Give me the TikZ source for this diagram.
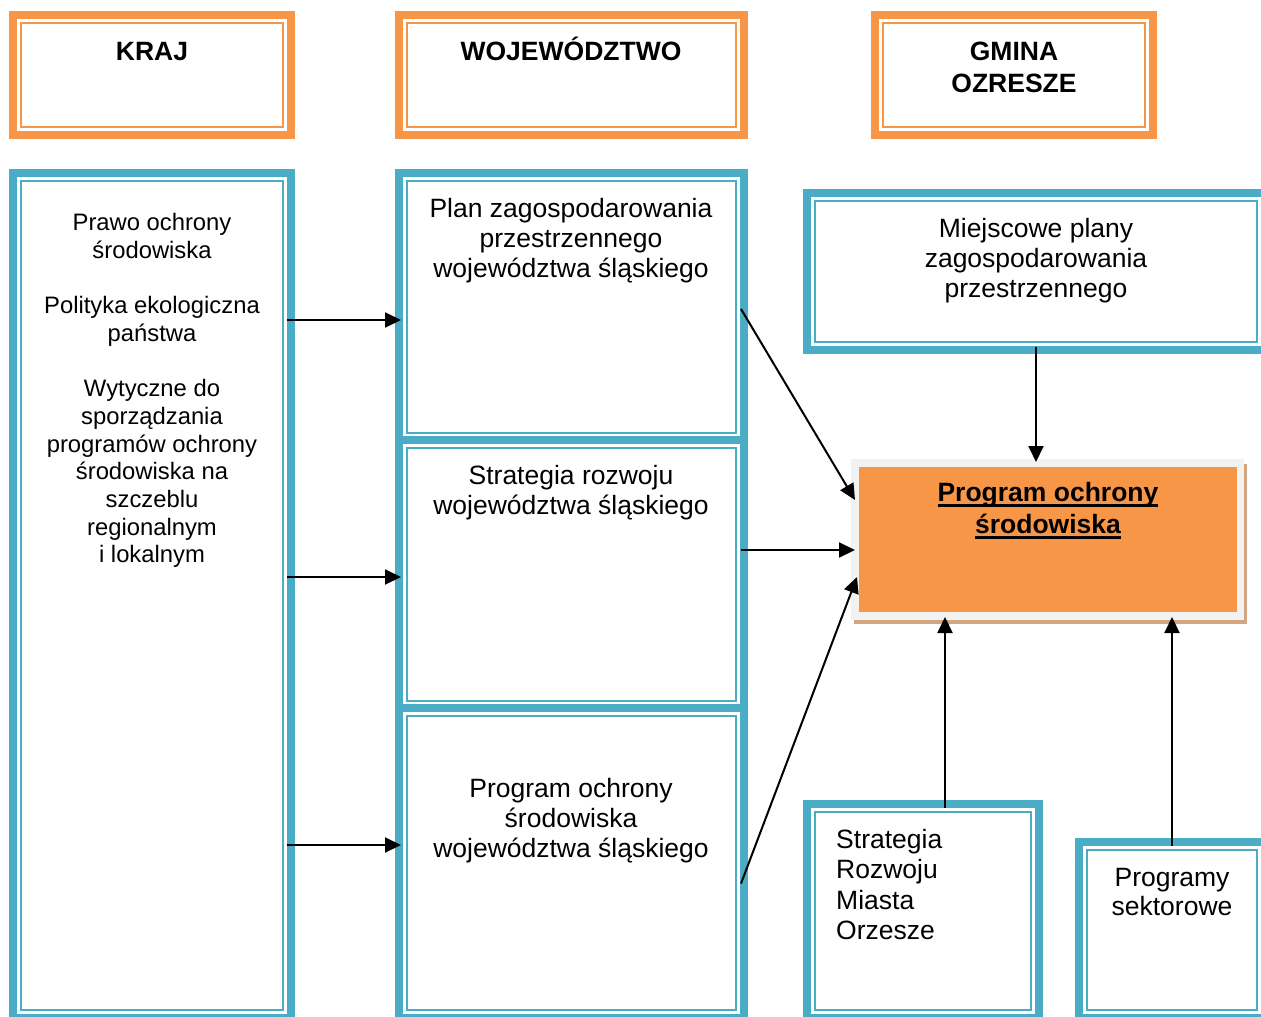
\documentclass[tikz,border=0pt]{standalone}
\usepackage{fontspec}
\setmainfont{Liberation Sans}
\usetikzlibrary{arrows.meta,calc}
\definecolor{orng}{HTML}{F79646}
\definecolor{blu}{HTML}{4BACC6}
\definecolor{lgray}{HTML}{F2F2F2}
\definecolor{shadowtan}{HTML}{D2A680}
\newcommand\myul[1]{\setbox0\hbox{#1}\rlap{\rule[-6pt]{\wd0}{3pt}}\box0}
\newcommand\dframe[6]{%
 \node[fill=white, inner sep=0pt, outer sep=0pt, minimum width={#4-#2}, minimum height={#5-#3}, anchor=north west] (#1) at (#2,#3) {};
 \draw[#6, line width=8pt] ([xshift=4pt,yshift=-4pt]#1.north west) rectangle ([xshift=-4pt,yshift=4pt]#1.south east);
 \draw[#6, line width=2.7pt] ([xshift=12.05pt,yshift=-12.05pt]#1.north west) rectangle ([xshift=-12.05pt,yshift=12.05pt]#1.south east);
}
\tikzset{
 txt/.style={font=\fontsize{26.5}{30.3}\selectfont, align=center, inner sep=0pt, anchor=base},
 hdr/.style={font=\fontsize{26.5}{32}\selectfont\bfseries, align=center, inner sep=0pt, anchor=base},
 small/.style={font=\fontsize{23.8}{27.7}\selectfont, align=center, inner sep=0pt, anchor=base},
 arr/.style={line width=2pt, -{Triangle[length=16pt,width=15pt]}},
}
\begin{document}
\begin{tikzpicture}[x=1pt,y=-1pt]
\useasboundingbox (0,0) rectangle (1261,1017);
\clip (0,0) rectangle (1261,1017);
% headers
\dframe{kraj}{9}{11}{295}{139}{orng}
\dframe{woj}{395}{11}{748}{139}{orng}
\dframe{gmina}{871}{11}{1157}{139}{orng}
% blue boxes
\dframe{krajb}{9}{169}{295}{1022}{blu}
\dframe{woj1}{395}{169}{748}{445}{blu}
\dframe{woj2}{395}{436}{748}{713}{blu}
\dframe{woj3}{395}{704}{748}{1022}{blu}
\dframe{miej}{803}{189}{1269}{354}{blu}
\dframe{strat}{803}{800}{1043}{1022}{blu}
\dframe{prog}{1075}{838}{1269}{1022}{blu}
% central box
\fill[shadowtan] (854,464) rectangle (1247,624);
\node[fill=lgray, inner sep=0pt, outer sep=0pt, minimum width=393pt, minimum height=161pt, anchor=north west] (pos) at (851,459) {};
\fill[orng] ([xshift=8pt,yshift=-8pt]pos.north west) rectangle ([xshift=-7pt,yshift=8pt]pos.south east);
% arrows
\draw[arr] ($(krajb.east |- 0,320)+(-8,0)$) -- ($(woj1.west |- 0,320)+(6,0)$);
\draw[arr] ($(krajb.east |- 0,577)+(-8,0)$) -- ($(woj2.west |- 0,577)+(6,0)$);
\draw[arr] ($(krajb.east |- 0,845)+(-8,0)$) -- ($(woj3.west |- 0,845)+(6,0)$);
\draw[arr] ($(woj1.east)+(-7,2)$) -- ($(pos.west)+(4,-39.5)$);
\draw[arr] ($(woj2.east |- 0,550)+(-7,0)$) -- ($(pos.west |- 0,550)+(4,0)$);
\draw[arr] ($(woj3.east)+(-7,20.5)$) -- ($(pos.west)+(6,37.5)$);
\draw[arr] ($(miej.south)+(0,-7)$) -- ($(miej.south |- pos.north)+(0,3)$);
\draw[arr] ($(strat.north)+(22,8)$) -- ($(strat.north |- pos.south)+(22,-3)$);
\draw[arr] ($(prog.north)+(0,8)$) -- ($(prog.north |- pos.south)+(0,-3)$);
% texts (base anchor = baseline of the last line)
\node[hdr] (tkraj) at (152,60) {KRAJ};
\node[hdr] (twoj) at (571,60) {WOJEWÓDZTWO};
\node[hdr] (tgmina) at (1014,92) {GMINA\\OZRESZE};
\node[small] (tkrajb) at (152,562.9) {Prawo ochrony\\środowiska\\[27.7pt]Polityka ekologiczna\\państwa\\[27.7pt]Wytyczne do\\sporządzania\\programów ochrony\\środowiska na\\szczeblu\\regionalnym\\i lokalnym};
\node[txt] (twoj1) at (571,277.6) {Plan zagospodarowania\\przestrzennego\\województwa śląskiego};
\node[txt] (twoj2) at (571,514.3) {Strategia rozwoju\\województwa śląskiego};
\node[txt] (twoj3) at (571,857.6) {Program ochrony\\środowiska\\województwa śląskiego};
\node[txt] (tmiej) at (1036,297.6) {Miejscowe plany\\zagospodarowania\\przestrzennego};
\node[hdr] (tpos) at (1048,533) {\myul{Program ochrony}\\\myul{środowiska}};
\node[txt, align=left, anchor=base west, font=\fontsize{26.5}{30.5}\selectfont] (tstrat) at (836,939.5) {Strategia\\Rozwoju\\Miasta\\Orzesze};
\node[txt, font=\fontsize{26.5}{29.5}\selectfont] (tprog) at (1172,915.5) {Programy\\sektorowe};
\end{tikzpicture}
\end{document}
